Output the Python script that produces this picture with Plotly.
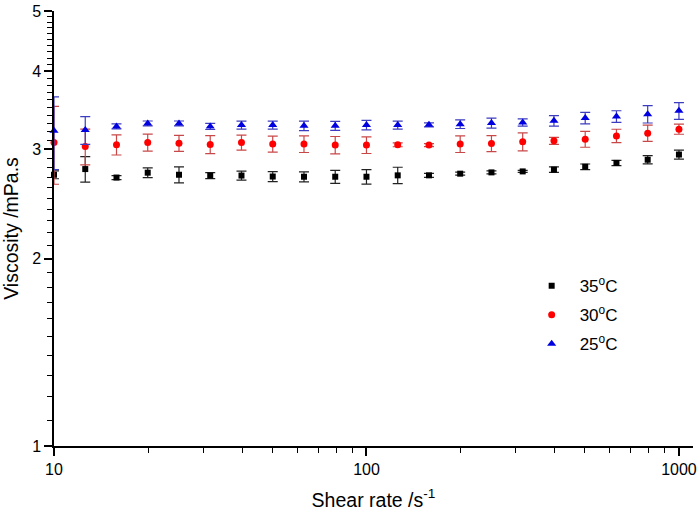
import plotly.graph_objects as go

shear_rate = [10, 12.59, 15.85, 19.95, 25.12, 31.62, 39.81, 50.12, 63.10, 79.43,
              100, 125.9, 158.5, 199.5, 251.2, 316.2, 398.1, 501.2, 631.0, 794.3, 1000]

visc_35 = [2.728, 2.786, 2.70, 2.749, 2.728, 2.72, 2.72, 2.71, 2.708, 2.708,
           2.708, 2.722, 2.722, 2.739, 2.752, 2.762, 2.78, 2.81, 2.85, 2.884, 2.94]
err_35 = [0.04, 0.131, 0.02, 0.05, 0.081, 0.03, 0.045, 0.05, 0.05, 0.065,
          0.073, 0.083, 0.02, 0.015, 0.015, 0.01, 0.028, 0.029, 0.028, 0.043, 0.049]

visc_30 = [3.074, 3.029, 3.048, 3.074, 3.066, 3.051, 3.074, 3.056, 3.056, 3.045,
           3.045, 3.048, 3.045, 3.056, 3.062, 3.082, 3.093, 3.112, 3.15, 3.182, 3.229]
err_30 = [0.44, 0.2, 0.113, 0.097, 0.091, 0.102, 0.085, 0.09, 0.094, 0.098,
          0.094, 0.022, 0.017, 0.094, 0.09, 0.103, 0.04, 0.092, 0.078, 0.095, 0.06]

visc_25 = [3.21, 3.218, 3.262, 3.298, 3.298, 3.262, 3.278, 3.278, 3.269, 3.269,
           3.278, 3.278, 3.281, 3.289, 3.303, 3.31, 3.33, 3.364, 3.384, 3.414, 3.456]
err_25 = [0.43, 0.165, 0.03, 0.03, 0.03, 0.037, 0.049, 0.049, 0.057, 0.055,
          0.057, 0.049, 0.024, 0.052, 0.061, 0.045, 0.065, 0.072, 0.073, 0.11, 0.107]

series_names = ["35<sup>o</sup>C", "30<sup>o</sup>C", "25<sup>o</sup>C"]

x_major = [10, 100, 1000]
x_minor = [20, 30, 40, 50, 60, 70, 80, 90, 200, 300, 400, 500, 600, 700, 800, 900]
y_major = [1, 2, 3, 4, 5]
y_minor = [1.1, 1.2, 1.3, 1.4, 1.5, 1.6, 1.7, 1.8, 1.9,
           2.1, 2.2, 2.3, 2.4, 2.5, 2.6, 2.7, 2.8, 2.9,
           3.1, 3.2, 3.3, 3.4, 3.5, 3.6, 3.7, 3.8, 3.9,
           4.1, 4.2, 4.3, 4.4, 4.5, 4.6, 4.7, 4.8, 4.9]

FONT = "Arial, Liberation Sans, sans-serif"

fig = go.Figure()

styles = [
    (visc_35, err_35, "square", 6, "#000000", "#222222"),
    (visc_30, err_30, "circle", 7, "#ff0000", "#c84848"),
    (visc_25, err_25, "triangle-up", 8, "#0000e0", "#3c3cc0"),
]
for i, (name, (vals, errs, sym, sz, col, ecol)) in enumerate(zip(series_names, styles)):
    fig.add_trace(go.Scatter(
        x=shear_rate, y=vals, mode="markers", name=name, legendgroup=f"g{i}",
        marker=dict(symbol=sym, size=sz, color=col, line=dict(width=0)),
        error_y=dict(type="data", array=errs, visible=True,
                     color=ecol, thickness=1.2, width=5),
        cliponaxis=False,
    ))

fig.update_layout(
    width=700, height=511,
    margin=dict(l=54, r=3, t=10, b=65),
    paper_bgcolor="white", plot_bgcolor="white",
    font=dict(family=FONT, size=16, color="black"),
    showlegend=True,
    legend=dict(x=0.735, y=0.409, xanchor="left", yanchor="top",
                font=dict(family=FONT, size=17), bgcolor="rgba(0,0,0,0)",
                itemwidth=46, tracegroupgap=4),
)

fig.update_xaxes(
    type="log", range=[1, 3.045],
    showline=True, linecolor="black", linewidth=1.5,
    showgrid=False, zeroline=False,
    ticks="outside", ticklen=8, tickwidth=1.5, tickcolor="black",
    tickmode="array", tickvals=x_major, ticktext=[str(v) for v in x_major],
    tickfont=dict(family=FONT, size=16), ticklabeloverflow="allow",
    minor=dict(ticks="outside", ticklen=5, tickwidth=1.2, tickcolor="black",
               tickmode="array", tickvals=x_minor, showgrid=False),
    title=dict(text="Shear rate /s<sup>-1</sup>", font=dict(family=FONT, size=19.5), standoff=16),
)

fig.update_yaxes(
    type="log", range=[0, 0.69897],
    showline=True, linecolor="black", linewidth=1.5,
    showgrid=False, zeroline=False,
    ticks="outside", ticklen=8, tickwidth=1.5, tickcolor="black",
    tickmode="array", tickvals=y_major, ticktext=[str(v) for v in y_major],
    tickfont=dict(family=FONT, size=16),
    minor=dict(ticks="outside", ticklen=5, tickwidth=1.2, tickcolor="black",
               tickmode="array", tickvals=y_minor, showgrid=False),
    title=dict(text="Viscosity /mPa.s", font=dict(family=FONT, size=19.5), standoff=8),
)

fig.write_html("out.html", config={"displayModeBar": False},
               post_script="document.body.style.margin='0';")
